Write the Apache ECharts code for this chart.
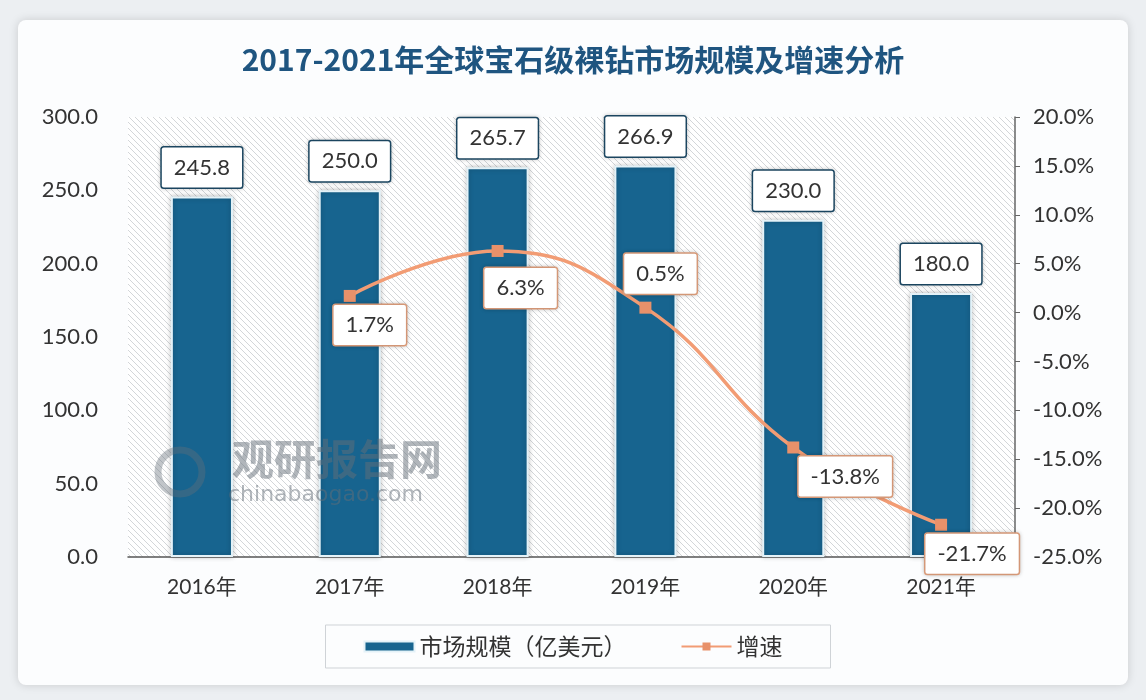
<!DOCTYPE html>
<html>
<head>
<meta charset="utf-8">
<script src="https://cdn.jsdelivr.net/npm/echarts@6/dist/echarts.min.js"></script>
<style>html,body{margin:0;padding:0;background:#eceff2;}#main{width:1146px;height:700px;}</style>
</head>
<body>
<div id="main"></div>
<script>
const titleText = '2017-2021年全球宝石级裸钻市场规模及增速分析';
const categories = ['2016年', '2017年', '2018年', '2019年', '2020年', '2021年'];
const marketSize = [245.8, 250.0, 265.7, 266.9, 230.0, 180.0];
const growthRate = [null, 1.7, 6.3, 0.5, -13.8, -21.7];
const seriesNames = ['市场规模（亿美元）', '增速'];
// label offsets (styling only)
const growthLabelOffsets = [[0, 0], [20, 29], [23, 37], [15, -34], [52, 29], [31, 29]];

const FONT = "Lato, 'Noto Sans CJK SC', sans-serif";

function hatchPattern() {
  const c = document.createElement('canvas');
  const s = 6;
  c.width = s; c.height = s;
  const g = c.getContext('2d');
  g.fillStyle = '#ffffff';
  g.fillRect(0, 0, s, s);
  g.strokeStyle = '#d3d6d9';
  g.lineWidth = 1;
  g.beginPath();
  g.moveTo(0, 0); g.lineTo(s, s);
  g.moveTo(-s / 2, s / 2); g.lineTo(s / 2, s * 1.5);
  g.moveTo(s / 2, -s / 2); g.lineTo(s * 1.5, s / 2);
  g.stroke();
  return { image: c, repeat: 'repeat' };
}

const chart = echarts.init(document.getElementById('main'), null, { renderer: 'canvas' });

const labelBox = {
  backgroundColor: '#ffffff',
  borderWidth: 1.5,
  borderRadius: 2,
  padding: [9, 12, 9, 12],
  fontSize: 22,
  color: '#333',
  fontFamily: FONT,
  shadowColor: 'rgba(0,0,0,0.18)',
  shadowBlur: 4
};

chart.setOption({
  backgroundColor: '#eceff2',
  animation: false,
  textStyle: { fontFamily: FONT },
  title: {
    text: titleText,
    left: 'center',
    top: 40,
    textStyle: { fontSize: 30, fontWeight: 'bold', color: '#1f5580', fontFamily: "'Noto Sans CJK SC', sans-serif" }
  },
  graphic: [
    {
      type: 'rect', z: -10, silent: true,
      shape: { x: 18, y: 20, width: 1110, height: 665, r: 8 },
      style: { fill: '#fcfdfe', shadowColor: 'rgba(0,0,0,0.15)', shadowBlur: 10 }
    },
    {
      type: 'text', z: 100, silent: true, left: 232, top: 438,
      style: { text: '观研报告网', fontSize: 42, fontWeight: 'bold', fill: 'rgba(100,110,120,0.5)', fontFamily: "'Noto Sans CJK SC', sans-serif" }
    },
    {
      type: 'text', z: 100, silent: true, left: 228, top: 484,
      style: { text: 'chinabaogao.com', fontSize: 22, fill: 'rgba(100,110,120,0.5)', fontFamily: "'DejaVu Sans', sans-serif" }
    },
    {
      type: 'circle', z: 100, silent: true,
      shape: { cx: 180, cy: 472, r: 22 },
      style: { fill: 'none', stroke: 'rgba(100,110,120,0.4)', lineWidth: 7 }
    }
  ],
  grid: {
    left: 128, right: 131, top: 117, bottom: 143,
    show: true, borderWidth: 0,
    backgroundColor: hatchPattern()
  },
  legend: {
    bottom: 32,
    left: 'center',
    borderColor: '#cfd3d7',
    borderWidth: 1,
    padding: [10, 48, 10, 38],
    itemGap: 54,
    itemWidth: 50,
    itemHeight: 10,
    textStyle: { fontSize: 23, color: '#333', fontFamily: "'Noto Sans CJK SC', sans-serif" },
    data: [
      { name: seriesNames[0], icon: 'rect' },
      { name: seriesNames[1] }
    ]
  },
  xAxis: {
    type: 'category',
    data: categories,
    axisLine: { show: true, lineStyle: { color: '#555', width: 1.5 } },
    axisTick: { show: false },
    axisLabel: { fontSize: 21, color: '#333', margin: 20, fontFamily: FONT }
  },
  yAxis: [
    {
      type: 'value', min: 0, max: 300, interval: 50,
      axisLine: { show: false }, axisTick: { show: false }, splitLine: { show: false },
      axisLabel: { fontSize: 22, color: '#333', margin: 30, formatter: v => v.toFixed(1) }
    },
    {
      type: 'value', min: -25, max: 20, interval: 5,
      axisLine: { show: true, lineStyle: { color: '#666', width: 1.5 } },
      axisTick: { show: true, length: 5, lineStyle: { color: '#666' } },
      splitLine: { show: false },
      axisLabel: { fontSize: 22, color: '#333', margin: 18, formatter: v => v.toFixed(1) + '%' }
    }
  ],
  series: [
    {
      name: seriesNames[0],
      type: 'bar',
      data: marketSize,
      barWidth: '42%',
      itemStyle: {
        color: '#17648f',
        borderColor: '#e4f2f8',
        borderWidth: 2,
        shadowColor: 'rgba(0,0,0,0.25)',
        shadowBlur: 5
      },
      label: Object.assign({
        show: true, position: 'top', distance: 9,
        borderColor: '#1d4a66',
        formatter: p => p.value.toFixed(1)
      }, labelBox)
    },
    {
      name: seriesNames[1],
      type: 'line',
      yAxisIndex: 1,
      smooth: 0.45,
      data: growthRate.map((v, i) => ({
        value: v,
        label: { offset: growthLabelOffsets[i] }
      })),
      symbol: 'rect',
      symbolSize: 12,
      lineStyle: { color: '#f29c74', width: 3.5 },
      itemStyle: { color: '#e8916a' },
      z: 5,
      label: Object.assign({
        show: true, position: 'inside',
        borderColor: '#e3a27f',
        formatter: p => p.value == null ? '' : p.value.toFixed(1) + '%'
      }, labelBox)
    }
  ]
});
</script>
</body>
</html>
